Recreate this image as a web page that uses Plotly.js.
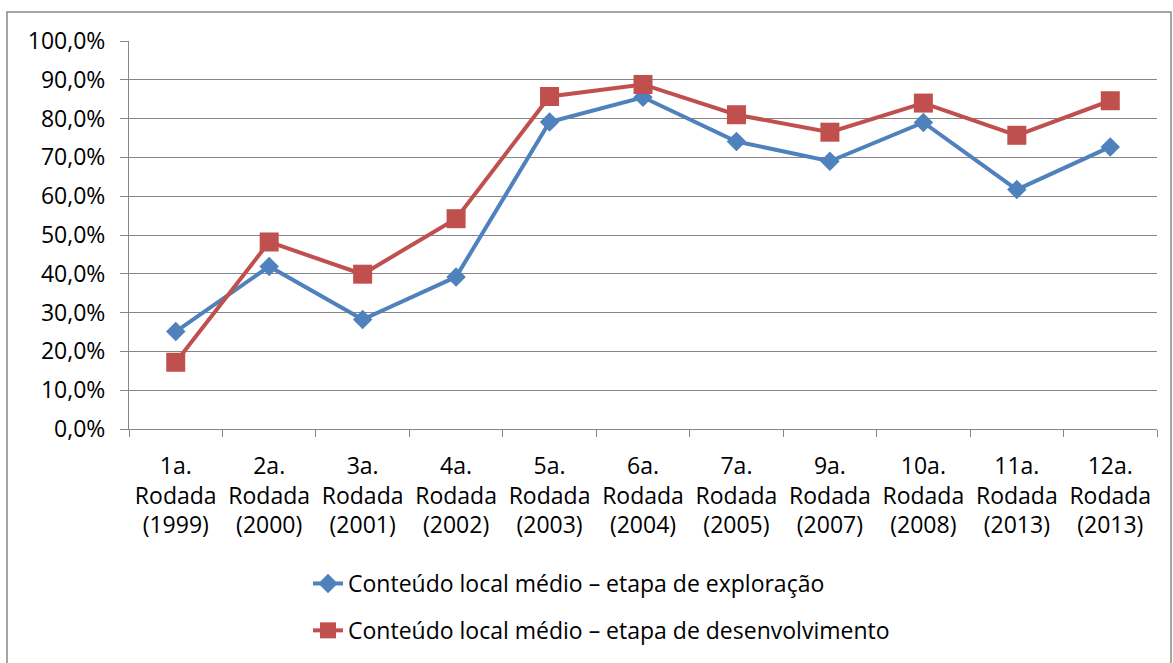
<!DOCTYPE html>
<html>
<head>
<meta charset="utf-8">
<script src="https://cdn.plot.ly/plotly-3.0.1.min.js"></script>
<style>
html,body{margin:0;padding:0;background:#fff;}
#chart{width:1173px;height:663px;}
</style>
</head>
<body>
<div id="chart"></div>
<script>
const categories = [
  "1a.<br>Rodada<br>(1999)", "2a.<br>Rodada<br>(2000)", "3a.<br>Rodada<br>(2001)",
  "4a.<br>Rodada<br>(2002)", "5a.<br>Rodada<br>(2003)", "6a.<br>Rodada<br>(2004)",
  "7a.<br>Rodada<br>(2005)", "9a.<br>Rodada<br>(2007)", "10a.<br>Rodada<br>(2008)",
  "11a.<br>Rodada<br>(2013)", "12a.<br>Rodada<br>(2013)"
];
const seriesNames = [
  "Conteúdo local médio – etapa de exploração",
  "Conteúdo local médio – etapa de desenvolvimento"
];
const exploracao = [0.251, 0.419, 0.282, 0.392, 0.791, 0.855, 0.741, 0.690, 0.790, 0.617, 0.727];
const desenvolvimento = [0.172, 0.482, 0.399, 0.542, 0.857, 0.888, 0.810, 0.765, 0.840, 0.757, 0.846];
const yTickVals = [0, 0.1, 0.2, 0.3, 0.4, 0.5, 0.6, 0.7, 0.8, 0.9, 1.0];

const FONT = "'Open Sans', 'Liberation Sans', sans-serif";
const FS = 23;
const W = 1173, H = 663;
const L = 129, R = 16, T = 41, B = 233;
const pw = W - L - R, ph = H - T - B;
function px2x(px){ return (px - L) / pw; }
function py2y(py){ return (H - B - py) / ph; }

const traces = [
  {
    x: categories, y: exploracao, name: seriesNames[0], type: "scatter", mode: "lines+markers",
    line: {color: "#4F81BD", width: 4},
    marker: {symbol: "diamond", size: 15, color: "#4F81BD"},
    legendgroup: "a"
  },
  {
    x: categories, y: desenvolvimento, name: seriesNames[1], type: "scatter", mode: "lines+markers",
    line: {color: "#C0504D", width: 4},
    marker: {symbol: "square", size: 19, color: "#C0504D"},
    legendgroup: "b"
  }
];

const layout = {
  width: W, height: H,
  margin: {l: L, r: R, t: T, b: B, pad: 0},
  paper_bgcolor: "#fff", plot_bgcolor: "#fff",
  separators: ",.",
  font: {family: FONT, size: FS, color: "#000"},
  showlegend: true,
  legend: {
    x: px2x(308), xanchor: "left",
    y: py2y(562), yanchor: "top",
    orientation: "v",
    traceorder: "grouped",
    tracegroupgap: 14,
    font: {family: FONT, size: FS, color: "#000"},
    bgcolor: "rgba(0,0,0,0)"
  },
  xaxis: {
    type: "category",
    range: [-0.5, 10.5],
    showgrid: false,
    showline: true, linecolor: "#868686", linewidth: 1,
    ticks: "outside", ticklen: 7, tickcolor: "#868686", tickwidth: 1,
    tickson: "boundaries",
    tickfont: {family: FONT, size: FS, color: "#000"},
    ticklabelstandoff: 16,
    fixedrange: true
  },
  yaxis: {
    range: [0, 1],
    tickvals: yTickVals,
    tickformat: ".1%",
    showgrid: true, gridcolor: "#868686", gridwidth: 1,
    showline: true, linecolor: "#868686", linewidth: 1,
    ticks: "outside", ticklen: 8, tickcolor: "#868686", tickwidth: 1,
    tickfont: {family: FONT, size: FS, color: "#000"},
    ticklabelstandoff: 10,
    zeroline: false,
    fixedrange: true
  },
  shapes: [
    {
      type: "rect", xref: "paper", yref: "paper",
      x0: px2x(7), x1: px2x(1171), y0: py2y(672), y1: py2y(12),
      line: {color: "#888888", width: 1.5}, fillcolor: "rgba(0,0,0,0)", layer: "below"
    }
  ]
};

Plotly.newPlot("chart", traces, layout, {displayModeBar: false, staticPlot: true});
</script>
</body>
</html>
